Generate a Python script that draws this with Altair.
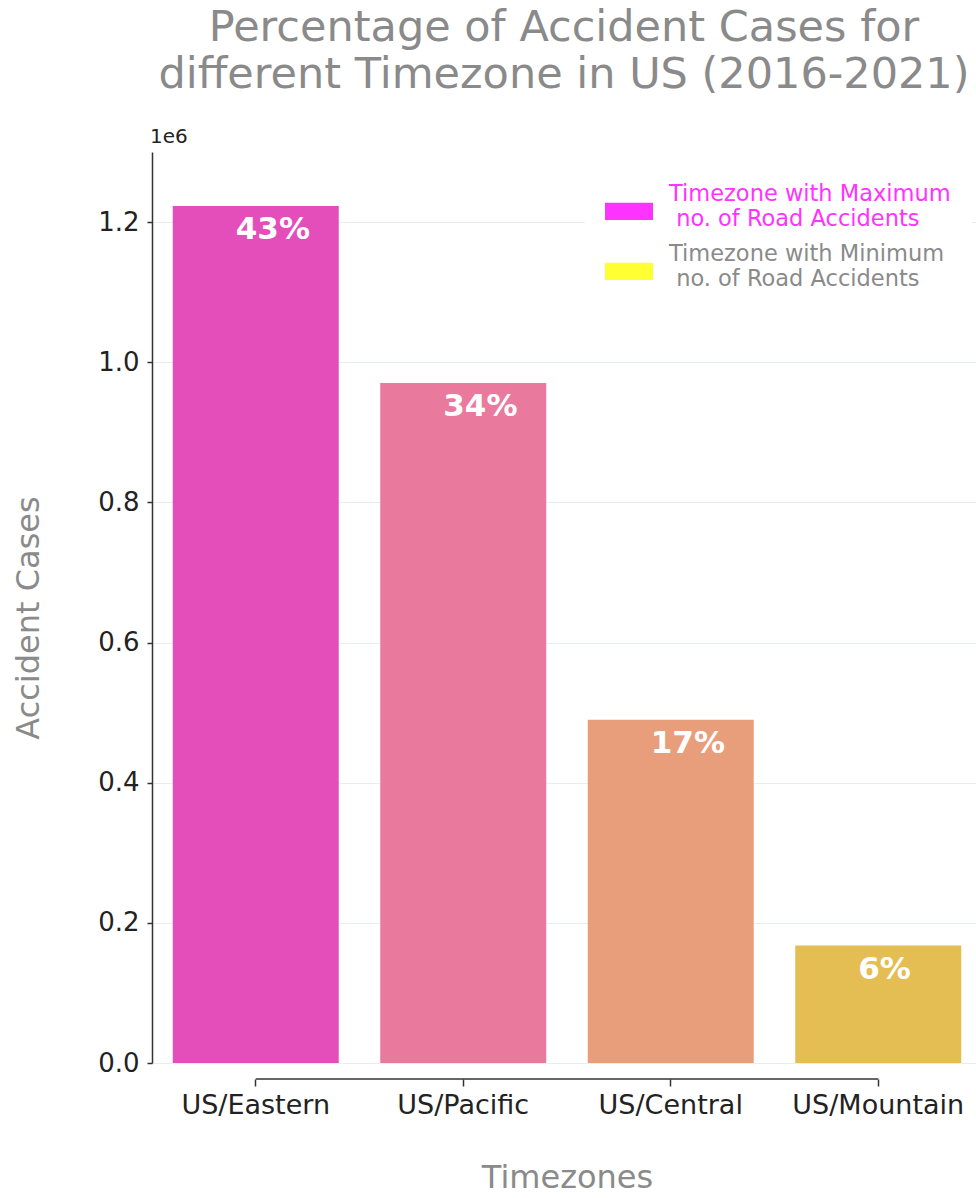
import altair as alt
import pandas as pd

# ---- data ----
timezones = ["US/Eastern", "US/Pacific", "US/Central", "US/Mountain"]
cases = [1223000, 970500, 489700, 167600]
pct_labels = ["43%", "34%", "17%", "6%"]
bar_colors = ["#E34EBA", "#E9799D", "#E99E7B", "#E4BD53"]

legend_labels = ["Timezone with Maximum\n\u200b\u00a0no. of Road Accidents",
                 "Timezone with Minimum\n\u200b\u00a0no. of Road Accidents"]
legend_colors = ["#FF33FF", "#FFFF33"]
legend_text_colors = ["#FF33FF", "#8A8A8A"]

y_ticks = [0, 200000, 400000, 600000, 800000, 1000000, 1200000]

W, H = 824, 911
FONT = "DejaVu Sans"

df = pd.DataFrame({"tz": timezones, "cases": cases, "pct": pct_labels})
spine_df = pd.DataFrame({"tz": [timezones[0]], "tz_end": [timezones[-1]]})
leg_df = pd.DataFrame({"entry": legend_labels})

x_scale = alt.Scale(domain=timezones, range=[0, 830], paddingInner=0.2, paddingOuter=0.1)

x_enc = alt.X(
    "tz:N",
    sort=timezones,
    scale=x_scale,
    axis=alt.Axis(
        title="Timezones",
        offset=16,
        domain=False,
        ticks=True,
        tickSize=7,
        tickColor="#333333",
        tickWidth=1.5,
        labelAngle=0,
        labelFont=FONT,
        labelFontSize=27,
        labelColor="#222222",
        labelPadding=6,
        titleFont=FONT,
        titleFontSize=32,
        titleFontWeight="normal",
        titleColor="#8A8A8A",
        titleBaseline="middle",
        titleY=98,
        grid=False,
    ),
)

y_enc = alt.Y(
    "cases:Q",
    scale=alt.Scale(domain=[0, 1300000], nice=False),
    axis=alt.Axis(
        title="Accident Cases",
        values=y_ticks,
        labelExpr="format(datum.value / 1e6, '.1f')",
        domain=True,
        domainColor="#333333",
        domainWidth=1.5,
        tickSize=5,
        tickColor="#333333",
        tickWidth=1.5,
        labelFont=FONT,
        labelFontSize=26,
        labelColor="#222222",
        labelPadding=8,
        grid=True,
        gridColor="#E6EEEE",
        gridWidth=1.2,
        titleFont=FONT,
        titleFontSize=32,
        titleFontWeight="normal",
        titleColor="#8A8A8A",
        titleAngle=270,
        titleBaseline="middle",
        titleAlign="center",
        titleX=-124,
        titleY=H / 2 + 10,
    ),
)

bars = alt.Chart(df).mark_bar().encode(
    x=x_enc,
    y=y_enc,
    color=alt.Color("tz:N", scale=alt.Scale(domain=timezones, range=bar_colors), legend=None),
)

labels = alt.Chart(df).mark_text(
    align="left", baseline="middle", dx=-20, dy=24,
    font=FONT, fontSize=31, fontWeight="bold", color="white",
).encode(
    x=alt.X("tz:N", sort=timezones, scale=x_scale),
    y="cases:Q",
    text="pct:N",
)

spine = alt.Chart(spine_df).mark_rule(color="#333333", strokeWidth=1.5).encode(
    x=alt.X("tz:N", sort=timezones, scale=x_scale),
    x2="tz_end:N",
    y=alt.value(H + 16),
)

exp_text = alt.Chart(spine_df).mark_text(
    text="1e6", align="left", baseline="middle", font=FONT, fontSize=20, color="#222222"
).encode(x=alt.value(-2), y=alt.value(-15))

legend_layer = alt.Chart(leg_df).mark_point(filled=True, opacity=0).encode(
    color=alt.Color(
        "entry:N",
        scale=alt.Scale(domain=legend_labels, range=legend_colors),
        legend=alt.Legend(
            title=None,
            orient="none",
            legendX=433,
            legendY=-2,
            padding=20,
            fillColor="white",
            strokeColor="white",
            symbolType="M-1,0.36L1,0.36L1,1.08L-1,1.08Z",
            symbolSize=2304,
            symbolOpacity=1,
            symbolStrokeWidth=0,
            labelFont=FONT,
            labelFontSize=22.5,
            labelLimit=500,
            labelOffset=16,
            labelExpr="split(datum.label, '\\n')",
            labelColor=alt.ExprRef(expr="indexof(datum.label, 'Maximum') >= 0 ? '%s' : '%s'" % (
                legend_text_colors[0], legend_text_colors[1])),
            rowPadding=0,
        ),
    ),
)

chart = (
    alt.layer(bars, labels, spine, exp_text, legend_layer)
    .resolve_scale(color="independent")
    .properties(
        width=W,
        height=H,
        autosize=alt.AutoSizeParams(type="none"),
        padding={"left": 152, "top": 152, "right": 0, "bottom": 135},
        title=alt.TitleParams(
            text=["Percentage of Accident Cases for", "different Timezone in US (2016-2021)"],
            font=FONT,
            fontSize=43,
            fontWeight="normal",
            color="#8A8A8A",
            anchor="middle",
            frame="group",
            baseline="alphabetic",
            lineHeight=47,
            offset=-4,
        ),
        background="white",
    )
    .configure_view(stroke=None)
)

chart.save("out.html", embed_options={"renderer": "svg", "actions": False})
